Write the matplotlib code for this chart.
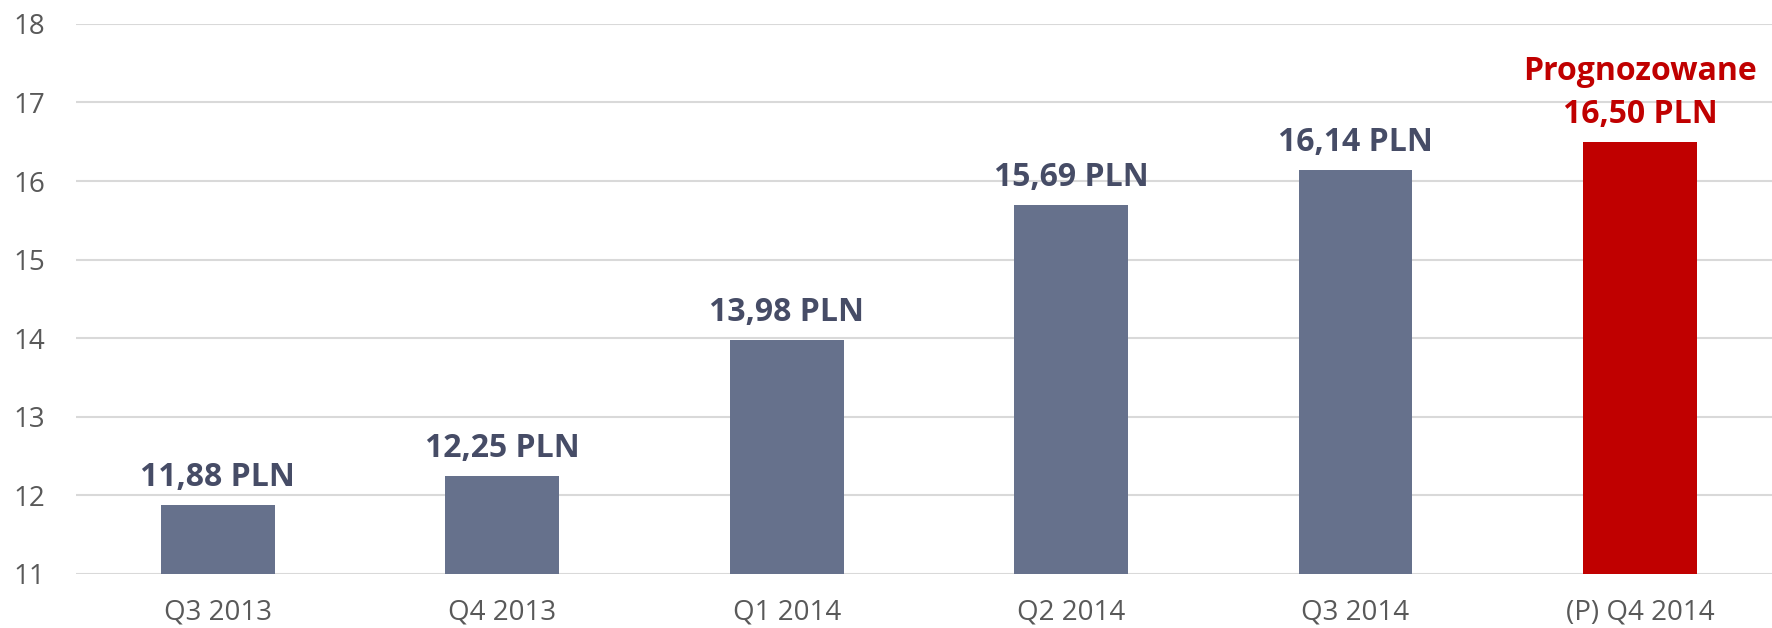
import matplotlib.pyplot as plt

# values
quarters = ["Q3 2013", "Q4 2013", "Q1 2014", "Q2 2014", "Q3 2014", "(P) Q4 2014"]
prices = [11.88, 12.25, 13.98, 15.69, 16.14, 16.50]
labels = ["11,88 PLN", "12,25 PLN", "13,98 PLN", "15,69 PLN", "16,14 PLN", "Prognozowane\n16,50 PLN"]
forecast = [False, False, False, False, False, True]

BAR_GREY = "#66718C"
LABEL_GREY = "#464C66"
RED = "#C00000"

plt.rcParams["font.family"] = ["Open Sans", "DejaVu Sans"]

fig = plt.figure(figsize=(17.72, 6.28), dpi=100)
ax = fig.add_axes([0.0427, 0.086, 0.963, 0.876])

colors = [RED if f else BAR_GREY for f in forecast]
x = range(len(quarters))
ax.bar(x, [p - 11 for p in prices], bottom=11, width=0.4, color=colors, zorder=3)

for i, (p, lab, f) in enumerate(zip(prices, labels, forecast)):
    ax.annotate(lab, (i, p), xytext=(0, 8), textcoords="offset points",
                ha="center", va="bottom", fontsize=23, fontweight="bold",
                color=RED if f else LABEL_GREY, linespacing=1.4)

ax.set_xlim(-0.5, len(quarters) - 0.5)
ax.set_ylim(11, 18)
ax.set_yticks(range(11, 19))
ax.set_xticks(list(x))
ax.set_xticklabels(quarters)
ax.yaxis.grid(True, color="#D9D9D9", linewidth=1.5, zorder=0)
ax.tick_params(axis="both", length=0, labelsize=20, colors="#595959")
ax.tick_params(axis="x", pad=18)
ax.tick_params(axis="y", pad=22)
for s in ax.spines.values():
    s.set_visible(False)

fig.savefig("out.png", dpi=100)
